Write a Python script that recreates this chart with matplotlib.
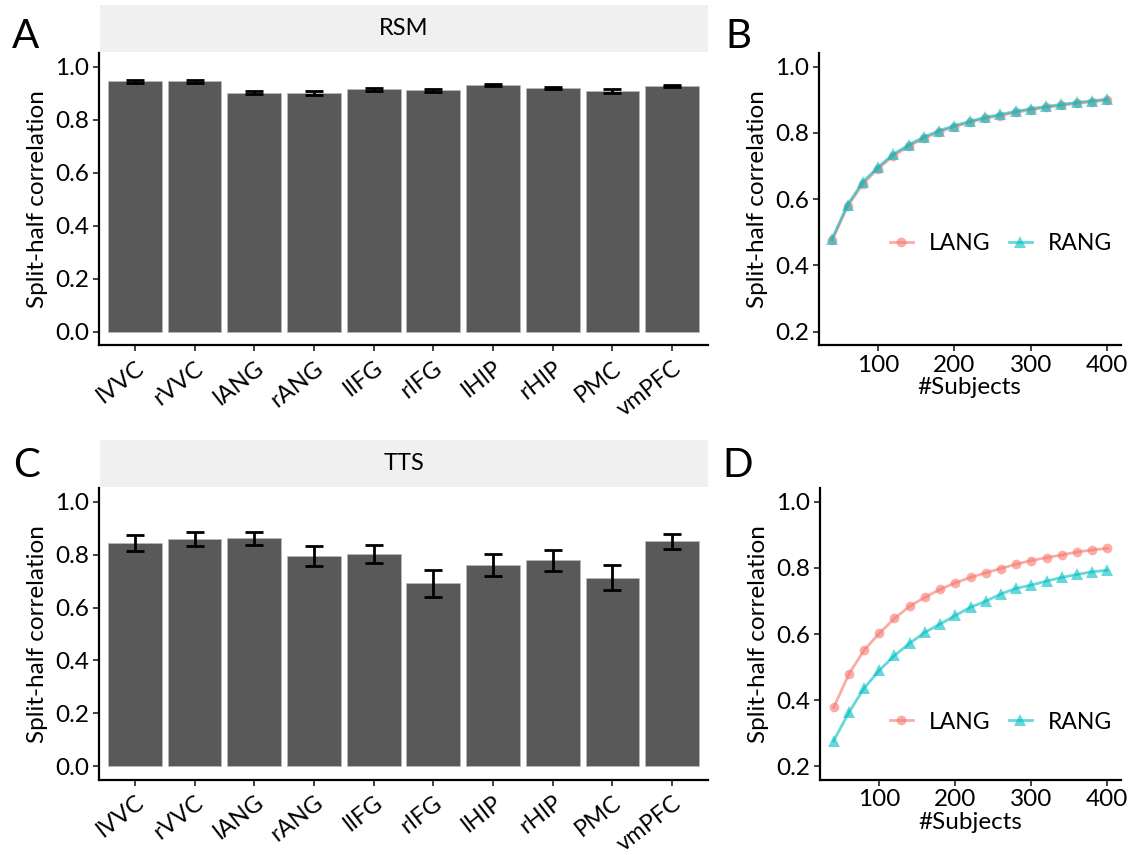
import matplotlib
matplotlib.use("Agg")
import matplotlib.pyplot as plt
import numpy as np

plt.rcParams['font.family'] = ['Lato', 'DejaVu Sans']

regions = ["lVVC", "rVVC", "lANG", "rANG", "lIFG", "rIFG", "lHIP", "rHIP", "PMC", "vmPFC"]
rsm_mean = [0.945, 0.945, 0.902, 0.901, 0.915, 0.911, 0.930, 0.919, 0.908, 0.926]
rsm_err = [0.006, 0.006, 0.007, 0.007, 0.005, 0.005, 0.004, 0.004, 0.006, 0.004]
tts_mean = [0.844, 0.858, 0.862, 0.795, 0.803, 0.691, 0.761, 0.778, 0.713, 0.851]
tts_err = [0.029, 0.027, 0.025, 0.037, 0.035, 0.052, 0.042, 0.038, 0.048, 0.028]

subjects = [40, 60, 80, 100, 120, 140, 160, 180, 200, 220, 240, 260, 280, 300, 320, 340, 360, 380, 400]
rsm_lang = [0.477, 0.578, 0.646, 0.692, 0.731, 0.760, 0.784, 0.803, 0.819, 0.832, 0.844, 0.852, 0.862, 0.870, 0.877, 0.883, 0.889, 0.894, 0.899]
rsm_rang = [0.481, 0.583, 0.652, 0.697, 0.736, 0.764, 0.788, 0.807, 0.822, 0.835, 0.847, 0.856, 0.865, 0.873, 0.880, 0.886, 0.892, 0.897, 0.902]
tts_lang = [0.378, 0.479, 0.551, 0.602, 0.647, 0.684, 0.711, 0.735, 0.755, 0.771, 0.785, 0.798, 0.811, 0.822, 0.831, 0.839, 0.848, 0.854, 0.859]
tts_rang = [0.277, 0.363, 0.436, 0.490, 0.535, 0.572, 0.605, 0.630, 0.656, 0.681, 0.699, 0.721, 0.738, 0.748, 0.760, 0.771, 0.780, 0.788, 0.793]

W, H = 1137, 855
fig = plt.figure(figsize=(W / 100, H / 100), dpi=100)

def rect(l, t, r, b):
    return [l / W, 1 - b / H, (r - l) / W, (b - t) / H]

TICK_FS = 17.5
LAB_FS = 17.5
BAR_COLOR = '#595959'
RED = '#F8766D'
CYAN = '#00BFC4'

def style_axes(ax):
    for s in ['top', 'right']:
        ax.spines[s].set_visible(False)
    for s in ['left', 'bottom']:
        ax.spines[s].set_linewidth(1.6)
        ax.spines[s].set_color('black')
    ax.tick_params(axis='both', length=4, width=1.3, color='#333333',
                   labelsize=TICK_FS, labelcolor='black', pad=3)

def bar_panel(rc, strip_rc, means, errs, title):
    ax = fig.add_axes(rect(*rc))
    x = np.arange(1, len(regions) + 1)
    ax.bar(x, means, width=0.9, color=BAR_COLOR, edgecolor='#bdbdbd', linewidth=0.4, zorder=2)
    ax.errorbar(x, means, yerr=errs, fmt='none', ecolor='black', elinewidth=2.0,
                capsize=6.5, capthick=2.0, zorder=3)
    ax.set_xlim(0.4, 10.6)
    ax.set_ylim(-0.05, 1.05)
    ax.set_yticks([0.0, 0.2, 0.4, 0.6, 0.8, 1.0])
    ax.set_yticklabels(['0.0', '0.2', '0.4', '0.6', '0.8', '1.0'])
    ax.set_xticks(x)
    ax.set_xticklabels(regions, rotation=38, ha='right', rotation_mode='anchor', fontsize=17)
    style_axes(ax)
    ax.tick_params(axis='x', pad=5, labelsize=17)
    ax.set_ylabel('Split-half correlation', fontsize=LAB_FS, labelpad=5)
    sax = fig.add_axes(rect(*strip_rc))
    sax.set_facecolor('#f0f0f0')
    for s in sax.spines.values():
        s.set_visible(False)
    sax.set_xticks([])
    sax.set_yticks([])
    sax.text(0.5, 0.5, title, ha='center', va='center', fontsize=17, transform=sax.transAxes)
    return ax

def line_panel(rc, lang, rang, leg_y):
    ax = fig.add_axes(rect(*rc))
    ax.plot(subjects, lang, color=RED, alpha=0.6, lw=2.0, marker='o', ms=7, mew=0, label='LANG')
    ax.plot(subjects, rang, color=CYAN, alpha=0.6, lw=2.0, marker='^', ms=8, mew=0, label='RANG')
    ax.set_xlim(22, 418)
    ax.set_ylim(0.16, 1.04)
    ax.set_xticks([100, 200, 300, 400])
    ax.set_yticks([0.2, 0.4, 0.6, 0.8, 1.0])
    ax.set_yticklabels(['0.2', '0.4', '0.6', '0.8', '1.0'])
    style_axes(ax)
    ax.set_xlabel('#Subjects', fontsize=LAB_FS, labelpad=1)
    ax.set_ylabel('Split-half correlation', fontsize=LAB_FS, labelpad=5)
    ax.legend(loc='center right', bbox_to_anchor=(1.0, leg_y), ncol=2, frameon=False,
              fontsize=16.5, handlelength=1.0, columnspacing=0.8, handletextpad=0.7,
              borderaxespad=0.0)
    return ax

bar_panel((99, 53.4, 708, 345), (100, 5, 708, 52), rsm_mean, rsm_err, 'RSM')
bar_panel((99, 488.5, 708, 779.5), (100, 440, 708, 487), tts_mean, tts_err, 'TTS')
line_panel((818.5, 53.4, 1121, 345), rsm_lang, rsm_rang, (345 - 244) / (345 - 53.4))
line_panel((820, 488.5, 1121, 779.5), tts_lang, tts_rang, (779.5 - 722) / (779.5 - 488.5))

for lab, (px, py) in {'A': (25, 37), 'B': (738, 37), 'C': (27, 465), 'D': (738, 465)}.items():
    fig.text(px / W, 1 - py / H, lab, fontsize=29, ha='center', va='center')

fig.savefig('out.png', dpi=100)
